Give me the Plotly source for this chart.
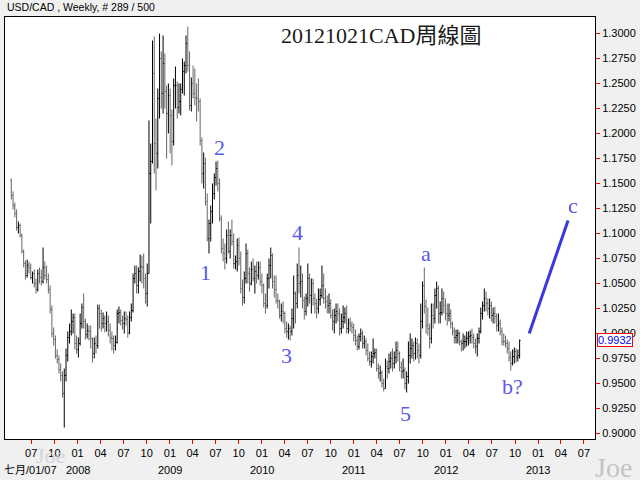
import pandas as pd
import plotly.graph_objects as go

# ---------------- data (USD/CAD weekly) ----------------
first_week = "2007-04-13"
n_weeks = 289

opens = [
    # 2007
    1.153,1.138,1.128,1.120,1.106,1.108,1.098,1.082,1.070,1.058,1.068,1.066,1.056,1.060,1.050,1.044,1.060,1.056,1.052,1.066,
    1.058,1.054,1.044,1.024,1.000,0.994,0.978,0.974,0.964,0.958,0.940,0.958,0.978,0.996,1.002,1.012,1.016,0.990,0.984,
    # 2008
    0.990,1.010,1.026,1.012,0.999,1.003,1.002,0.995,0.980,0.990,0.988,1.025,1.020,1.010,1.015,1.010,1.012,1.003,0.996,0.995,
    0.988,0.991,1.020,1.021,1.013,1.010,1.015,1.014,1.001,1.016,1.023,1.055,1.060,1.048,1.062,1.067,1.066,1.055,1.040,1.060,
    1.160,1.172,1.260,1.190,1.180,1.235,1.275,1.240,1.270,1.242,1.220,1.238,
    # 2009
    1.218,1.192,1.248,1.248,1.226,1.232,1.244,1.262,1.268,1.290,1.268,1.228,1.250,1.240,1.236,1.235,1.232,1.193,1.160,1.170,
    1.132,1.095,1.110,1.122,1.140,1.156,1.165,1.150,1.115,1.085,1.080,1.075,1.098,1.082,1.098,1.092,1.070,1.072,1.088,1.075,
    1.045,1.036,1.055,1.080,1.060,1.050,1.064,1.055,1.062,1.058,1.066,1.052,
    # 2010
    1.048,1.030,1.028,1.055,1.068,1.078,1.052,1.044,1.033,1.032,1.018,1.022,1.020,1.005,1.002,1.005,1.002,1.015,1.040,1.030,
    1.058,1.050,1.052,1.033,1.022,1.035,1.055,1.038,1.050,1.035,1.030,1.025,1.034,1.038,1.048,1.035,1.032,1.028,1.030,1.018,
    1.012,1.018,1.022,1.020,1.005,1.012,1.016,1.020,1.005,1.010,1.008,1.006,
    # 2011
    0.998,0.993,0.987,0.997,1.000,0.990,0.992,0.983,0.975,0.972,0.977,0.980,0.981,0.965,0.960,0.961,0.950,0.945,0.967,0.965,
    0.972,0.975,0.970,0.976,0.983,0.980,0.966,0.962,0.963,0.950,0.957,0.978,0.985,0.988,0.980,0.990,0.983,0.978,1.012,1.048,
    1.027,1.008,1.005,0.995,1.018,1.015,1.038,1.045,1.020,1.021,1.035,1.028,
    # 2012
    1.020,1.018,1.020,1.010,1.002,0.996,0.998,1.000,0.992,0.990,0.992,0.992,0.995,0.997,0.998,0.996,0.990,0.987,0.995,1.002,
    1.020,1.028,1.035,1.030,1.025,1.028,1.018,1.020,1.017,1.008,1.010,1.002,0.992,0.992,0.990,0.985,0.976,0.970,0.977,0.982,
    0.976,0.978,
]
highs = [
    # 2007
    1.155,1.142,1.131,1.124,1.112,1.110,1.100,1.084,1.073,1.074,1.072,1.070,1.062,1.064,1.055,1.064,1.066,1.064,1.086,1.072,
    1.068,1.060,1.048,1.028,1.006,0.998,0.984,0.978,0.970,0.962,0.965,0.985,1.002,1.010,1.024,1.020,1.020,0.998,0.996,
    # 2008
    1.020,1.030,1.040,1.015,1.010,1.008,1.008,0.996,0.996,0.998,1.029,1.029,1.024,1.021,1.018,1.022,1.018,1.010,1.002,0.998,
    0.998,1.024,1.027,1.024,1.018,1.022,1.022,1.018,1.022,1.030,1.060,1.068,1.068,1.066,1.079,1.078,1.080,1.060,1.070,1.213,
    1.190,1.293,1.297,1.215,1.245,1.300,1.282,1.298,1.280,1.248,1.250,1.245,
    # 2009
    1.224,1.255,1.267,1.252,1.250,1.250,1.275,1.272,1.298,1.307,1.282,1.256,1.268,1.265,1.250,1.255,1.235,1.196,1.181,1.176,
    1.140,1.114,1.128,1.150,1.160,1.172,1.173,1.155,1.118,1.095,1.090,1.104,1.112,1.104,1.114,1.100,1.078,1.095,1.096,1.082,
    1.054,1.062,1.090,1.084,1.066,1.072,1.075,1.068,1.072,1.072,1.072,1.060,
    # 2010
    1.050,1.040,1.060,1.075,1.086,1.080,1.058,1.058,1.040,1.034,1.030,1.032,1.022,1.012,1.010,1.008,1.025,1.058,1.042,1.070,
    1.086,1.068,1.060,1.037,1.040,1.070,1.060,1.055,1.055,1.040,1.035,1.045,1.045,1.068,1.060,1.045,1.038,1.040,1.034,1.024,
    1.025,1.030,1.030,1.025,1.020,1.028,1.026,1.028,1.015,1.016,1.012,1.010,
    # 2011
    1.004,0.998,1.000,1.005,1.003,0.998,0.995,0.990,0.982,0.982,0.995,0.985,0.985,0.970,0.968,0.963,0.955,0.975,0.973,0.980,
    0.982,0.985,0.982,0.992,0.992,0.982,0.972,0.975,0.966,0.962,0.992,1.000,0.995,0.992,0.996,0.995,0.990,1.030,1.052,1.066,
    1.034,1.026,1.010,1.030,1.030,1.045,1.052,1.048,1.032,1.045,1.042,1.035,
    # 2012
    1.030,1.030,1.024,1.012,1.006,1.004,1.004,1.002,0.994,1.000,0.998,1.002,1.002,1.003,1.005,1.000,0.995,1.000,1.006,1.026,
    1.032,1.045,1.042,1.035,1.035,1.032,1.026,1.027,1.020,1.020,1.014,1.006,1.000,0.998,0.994,0.992,0.982,0.984,0.986,0.985,
    0.984,0.994,
]
lows = [
    # 2007
    1.134,1.124,1.116,1.103,1.100,1.096,1.080,1.066,1.054,1.056,1.060,1.054,1.050,1.046,1.040,1.042,1.050,1.048,1.050,1.054,
    1.050,1.040,1.020,0.996,0.988,0.975,0.970,0.960,0.952,0.936,0.906,0.952,0.972,0.990,0.998,1.000,0.984,0.980,0.976,
    # 2008
    0.988,1.005,1.005,0.994,0.995,0.993,0.985,0.971,0.975,0.980,0.985,1.005,1.002,1.005,1.001,1.002,0.997,0.990,0.983,0.980,
    0.983,0.990,1.010,1.008,1.004,1.000,1.008,0.996,0.999,1.012,1.021,1.050,1.040,1.040,1.052,1.050,1.045,1.030,1.027,1.060,
    1.110,1.170,1.160,1.143,1.165,1.215,1.225,1.220,1.225,1.175,1.200,1.180,
    # 2009
    1.168,1.188,1.225,1.215,1.220,1.218,1.240,1.238,1.260,1.262,1.223,1.222,1.235,1.228,1.212,1.222,1.188,1.150,1.145,1.128,
    1.092,1.080,1.092,1.110,1.134,1.148,1.142,1.112,1.080,1.072,1.064,1.070,1.080,1.075,1.088,1.065,1.064,1.062,1.068,1.040,
    1.028,1.030,1.050,1.050,1.042,1.048,1.052,1.040,1.050,1.054,1.048,1.040,
    # 2010
    1.026,1.020,1.025,1.045,1.055,1.045,1.036,1.030,1.025,1.015,1.012,1.010,1.000,0.996,0.994,0.993,0.998,1.005,1.010,1.025,
    1.040,1.036,1.025,1.014,1.018,1.027,1.030,1.020,1.028,1.020,1.015,1.020,1.028,1.035,1.030,1.025,1.020,1.020,1.015,1.003,
    1.000,1.010,1.012,0.998,1.000,1.005,1.010,1.000,1.000,1.002,1.000,0.992,
    # 2011
    0.988,0.983,0.984,0.992,0.985,0.985,0.978,0.972,0.968,0.966,0.970,0.975,0.962,0.955,0.952,0.946,0.942,0.945,0.955,0.960,
    0.965,0.962,0.965,0.970,0.972,0.962,0.955,0.955,0.944,0.941,0.950,0.970,0.975,0.972,0.974,0.975,0.970,0.975,1.005,1.020,
    1.000,0.998,0.985,0.990,1.005,1.010,1.025,1.010,1.010,1.018,1.020,1.013,
    # 2012
    1.008,1.012,1.005,0.998,0.990,0.990,0.990,0.988,0.982,0.983,0.985,0.987,0.988,0.990,0.990,0.985,0.980,0.977,0.990,1.000,
    1.014,1.022,1.022,1.018,1.015,1.012,1.010,1.010,1.002,1.002,0.998,0.988,0.988,0.986,0.980,0.972,0.963,0.968,0.970,0.971,
    0.972,0.975,
]
closes = [
    # 2007
    1.138,1.128,1.120,1.106,1.108,1.098,1.082,1.070,1.058,1.068,1.066,1.056,1.060,1.050,1.044,1.060,1.056,1.052,1.066,1.058,
    1.054,1.044,1.024,1.000,0.994,0.978,0.974,0.964,0.958,0.940,0.958,0.978,0.996,1.002,1.012,1.016,0.990,0.984,0.990,
    # 2008
    1.010,1.026,1.012,0.999,1.003,1.002,0.995,0.980,0.990,0.988,1.025,1.020,1.010,1.015,1.010,1.012,1.003,0.996,0.995,0.988,
    0.991,1.020,1.021,1.013,1.010,1.015,1.014,1.001,1.016,1.023,1.055,1.060,1.048,1.062,1.067,1.066,1.055,1.040,1.060,1.160,
    1.172,1.260,1.190,1.180,1.235,1.275,1.240,1.270,1.242,1.220,1.238,1.218,
    # 2009
    1.192,1.248,1.248,1.226,1.232,1.244,1.262,1.268,1.290,1.268,1.228,1.250,1.240,1.236,1.235,1.232,1.193,1.160,1.170,1.132,
    1.095,1.110,1.122,1.140,1.156,1.165,1.150,1.115,1.085,1.080,1.075,1.098,1.082,1.098,1.092,1.070,1.072,1.088,1.075,1.045,
    1.036,1.055,1.080,1.060,1.050,1.064,1.055,1.062,1.058,1.066,1.052,1.048,
    # 2010
    1.030,1.028,1.055,1.068,1.078,1.052,1.044,1.033,1.032,1.018,1.022,1.020,1.005,1.002,1.005,1.002,1.015,1.040,1.030,1.058,
    1.050,1.052,1.033,1.022,1.035,1.055,1.038,1.050,1.035,1.030,1.025,1.034,1.038,1.048,1.035,1.032,1.028,1.030,1.018,1.012,
    1.018,1.022,1.020,1.005,1.012,1.016,1.020,1.005,1.010,1.008,1.006,0.998,
    # 2011
    0.993,0.987,0.997,1.000,0.990,0.992,0.983,0.975,0.972,0.977,0.980,0.981,0.965,0.960,0.961,0.950,0.945,0.967,0.965,0.972,
    0.975,0.970,0.976,0.983,0.980,0.966,0.962,0.963,0.950,0.957,0.978,0.985,0.988,0.980,0.990,0.983,0.978,1.012,1.048,1.027,
    1.008,1.005,0.995,1.018,1.015,1.038,1.045,1.020,1.021,1.035,1.028,1.020,
    # 2012
    1.018,1.020,1.010,1.002,0.996,0.998,1.000,0.992,0.990,0.992,0.992,0.995,0.997,0.998,0.996,0.990,0.987,0.995,1.002,1.020,
    1.028,1.035,1.030,1.025,1.028,1.018,1.020,1.017,1.008,1.010,1.002,0.992,0.992,0.990,0.985,0.976,0.970,0.977,0.982,0.976,
    0.978,0.993,
]

last_price = 0.9932

# projected wave c line
target_dates = ["2012-11-26", "2013-04-29"]
target_values = [1.000, 1.113]

# Elliott wave labels
wave_text = ["1", "2", "3", "4", "5", "a", "b?", "c"]
wave_dates = ["2009-05-23", "2009-07-17", "2010-04-10", "2010-05-23", "2011-07-25", "2011-10-12", "2012-09-21", "2013-05-19"]
wave_values = [1.061, 1.186, 0.978, 1.101, 0.920, 1.080, 0.947, 1.128]

# axis ticks
x_tick_dates = ["2007-07-01", "2007-10-01", "2008-01-01", "2008-04-01", "2008-07-01", "2008-10-01",
                "2009-01-01", "2009-04-01", "2009-07-01", "2009-10-01", "2010-01-01", "2010-04-01",
                "2010-07-01", "2010-10-01", "2011-01-01", "2011-04-01", "2011-07-01", "2011-10-01",
                "2012-01-01", "2012-04-01", "2012-07-01", "2012-10-01", "2013-01-01", "2013-04-01",
                "2013-07-01"]
x_tick_text = ["07", "10", "01", "04", "07", "10", "01", "04", "07", "10", "01", "04", "07", "10",
               "01", "04", "07", "10", "01", "04", "07", "10", "01", "04", "07"]
year_labels = ["2008", "2009", "2010", "2011", "2012", "2013"]
year_dates = ["2008-01-01", "2009-01-01", "2010-01-01", "2011-01-01", "2012-01-01", "2013-01-01"]
y_ticks = [0.900, 0.925, 0.950, 0.975, 1.000, 1.025, 1.050, 1.075, 1.100, 1.125, 1.150,
           1.175, 1.200, 1.225, 1.250, 1.275, 1.300]

# ---------------- figure ----------------
weeks = pd.date_range(first_week, periods=n_weeks, freq="7D")

fig = go.Figure()
fig.add_trace(go.Ohlc(
    x=weeks, open=opens, high=highs, low=lows, close=closes,
    increasing=dict(line=dict(color="black", width=1)),
    decreasing=dict(line=dict(color="#666666", width=1)),
    tickwidth=0.5, showlegend=False, hoverinfo="skip",
))
fig.add_trace(go.Scatter(
    x=target_dates, y=target_values, mode="lines",
    line=dict(color="#3838E0", width=3), showlegend=False, hoverinfo="skip",
))

serif = "Liberation Serif, Times New Roman, serif"
sans = "Liberation Sans, Arial, sans-serif"

ann = []
for t, d, v in zip(wave_text, wave_dates, wave_values):
    ann.append(dict(x=d, y=v, xref="x", yref="y", text=t, showarrow=False,
                    font=dict(family=serif, size=22, color="#5A5AE6"),
                    xanchor="center", yanchor="middle"))
for t, d in zip(year_labels, year_dates):
    ann.append(dict(x=d, y=-0.0735, xref="x", yref="paper", text=t, showarrow=False,
                    font=dict(family=sans, size=11, color="black"),
                    xanchor="center", yanchor="middle"))
ann += [
    dict(x=0.637, y=0.957, xref="paper", yref="paper", text="20121021CAD周線圖", showarrow=False,
         font=dict(family="Liberation Serif, Noto Sans CJK TC, serif", size=22, color="#1a1a1a"),
         xanchor="center", yanchor="middle"),
    dict(x=0.0, y=1.0237, xref="paper", yref="paper", text="USD/CAD , Weekly, # 289 / 500",
         showarrow=False, font=dict(family=sans, size=10.5, color="black"),
         xanchor="left", yanchor="middle", xshift=0),
    dict(x=0.0, y=-0.0735, xref="paper", yref="paper", text="七月/01/07", showarrow=False,
         font=dict(family="Liberation Sans, Noto Sans CJK TC, sans-serif", size=11, color="black"),
         xanchor="left", yanchor="middle", xshift=-3),
    dict(x=0.0776, y=-0.040, xref="paper", yref="paper", text="Joe", showarrow=False,
         font=dict(family=serif, size=22, color="#D4D4DC"), xanchor="center", yanchor="middle"),
    dict(x=1.032, y=-0.0687, xref="paper", yref="paper", text="Joe", showarrow=False,
         font=dict(family=serif, size=28, color="#C4C4C4"), xanchor="center", yanchor="middle"),
    dict(x=1.0, y=last_price, xref="paper", yref="y", text=f"{last_price:.4f}", showarrow=False,
         font=dict(family=sans, size=11, color="#0000FF"), xanchor="left", yanchor="middle",
         xshift=2, bgcolor="white", bordercolor="red", borderwidth=1, borderpad=0),
]

fig.update_layout(
    width=640, height=480,
    margin=dict(l=4, r=43, t=17, b=41),
    paper_bgcolor="#F0F0F0", plot_bgcolor="white",
    annotations=ann,
    xaxis=dict(type="date", range=["2007-03-19", "2013-08-14"], rangeslider=dict(visible=False),
               showgrid=False, zeroline=False, showline=True, linecolor="black", linewidth=1,
               mirror=True, ticks="outside", tickcolor="red", ticklen=4, tickwidth=1,
               tickvals=x_tick_dates, ticktext=x_tick_text,
               tickfont=dict(family=sans, size=11, color="black")),
    yaxis=dict(side="right", range=[0.8945, 1.3165], showgrid=False, zeroline=False,
               showline=True, linecolor="black", linewidth=1, mirror=True,
               ticks="outside", tickcolor="red", ticklen=4, tickwidth=1,
               tickvals=y_ticks, tickformat=".4f",
               tickfont=dict(family=sans, size=11, color="black")),
)

fig.write_html("out.html", config={"displayModeBar": False},
               post_script="document.body.style.margin='0';")
